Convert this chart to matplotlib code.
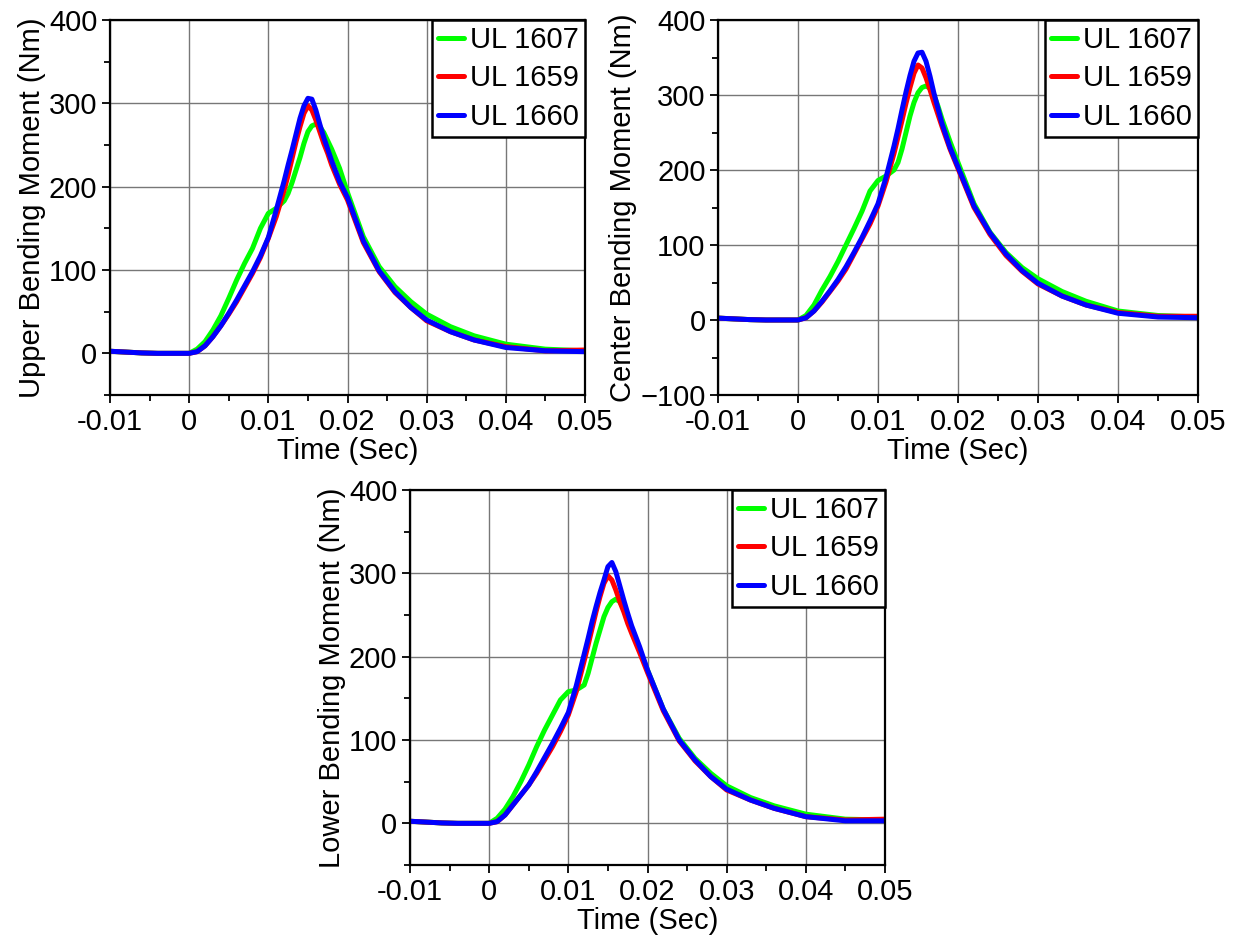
import numpy as np
import matplotlib.pyplot as plt
from matplotlib.ticker import MultipleLocator

plt.rcParams['font.family'] = ['Liberation Sans', 'DejaVu Sans']

# time axis (s)
t = [-0.01, -0.008, -0.006, -0.004, -0.002, 0.0,
     0.001, 0.002, 0.003, 0.004, 0.005, 0.006, 0.007, 0.008, 0.009, 0.010, 0.011, 0.012,
     0.0125, 0.013, 0.0135, 0.014, 0.0145, 0.015, 0.0155, 0.016, 0.0165, 0.017, 0.0175, 0.018,
     0.019, 0.020, 0.022, 0.024, 0.026, 0.028, 0.030, 0.033, 0.036,
     0.040, 0.045, 0.050]

names = ["UL 1607", "UL 1659", "UL 1660"]
colors = ["#00ff00", "#ff0000", "#0000ff"]

pre = [2.5, 1.5, 0.5, 0, 0, 0]

# Upper bending moment (Nm)
upper_1607 = pre + [5, 14, 28, 45, 66, 88, 108, 126, 150, 168, 174, 183,
                    192, 205, 220, 235, 252, 266, 273, 275, 272, 265, 255, 245,
                    222, 193, 140, 104, 80, 62, 47, 32, 21, 11, 5, 3]
upper_1659 = pre + [2, 9, 20, 33, 47, 62, 79, 96, 115, 138, 164, 196,
                    214, 234, 254, 272, 288, 297, 292, 280, 266, 252, 240, 226,
                    203, 184, 133, 98, 73, 55, 39, 26, 16, 8, 3, 4]
upper_1660 = pre + [2, 9, 20, 33, 48, 64, 81, 98, 117, 139, 172, 207,
                    226, 244, 263, 282, 297, 306, 305, 292, 275, 259, 245, 231,
                    206, 187, 135, 99, 74, 55, 40, 26, 16, 7, 3, 2]

# Center bending moment (Nm)
center_1607 = pre + [6, 20, 40, 58, 78, 100, 122, 145, 172, 186, 192, 200,
                     210, 228, 250, 272, 290, 303, 310, 312, 309, 300, 285, 268,
                     238, 210, 155, 117, 90, 70, 55, 38, 25, 12, 6, 4]
center_1659 = pre + [3, 12, 24, 38, 52, 68, 88, 108, 128, 152, 184, 222,
                     244, 266, 289, 310, 329, 340, 336, 323, 307, 290, 274, 258,
                     228, 202, 150, 114, 86, 65, 48, 32, 20, 10, 5, 5]
center_1660 = pre + [3, 12, 25, 39, 54, 71, 90, 110, 132, 155, 190, 232,
                     255, 280, 304, 326, 345, 356, 357, 345, 325, 302, 282, 262,
                     230, 204, 152, 116, 88, 66, 49, 32, 20, 9, 4, 3]

# Lower bending moment (Nm)
lower_1607 = pre + [6, 17, 32, 50, 70, 92, 112, 130, 148, 158, 160, 166,
                    180, 198, 216, 232, 248, 259, 266, 269, 266, 258, 245, 232,
                    208, 184, 137, 102, 78, 60, 45, 31, 21, 11, 5, 4]
lower_1659 = pre + [2, 10, 22, 34, 46, 60, 76, 92, 110, 130, 158, 195,
                    214, 234, 254, 272, 288, 297, 292, 280, 266, 254, 240, 228,
                    205, 181, 135, 99, 75, 56, 40, 28, 18, 8, 4, 5]
lower_1660 = pre + [2, 10, 22, 34, 46, 62, 79, 96, 114, 133, 165, 203,
                    222, 242, 260, 277, 292, 308, 313, 302, 285, 268, 252, 237,
                    212, 184, 137, 100, 76, 56, 41, 28, 18, 8, 3, 3]

xticks = [-0.01, 0, 0.01, 0.02, 0.03, 0.04, 0.05]
xticklabels = ["-0.01", "0", "0.01", "0.02", "0.03", "0.04", "0.05"]

W, H = 1239, 940
fig = plt.figure(figsize=(W / 100, H / 100), dpi=100)


def panel(rect, series, ylabel, ylim):
    l, top, r, b = rect
    ax = fig.add_axes([l / W, 1 - b / H, (r - l) / W, (b - top) / H])
    for ys, c, n in zip(series, colors, names):
        ax.plot(t, ys, color=c, lw=3.6, label=n, solid_capstyle='round', solid_joinstyle='round')
    ax.set_xlim(-0.01, 0.05)
    ax.set_ylim(*ylim)
    ax.set_xticks(xticks)
    ax.set_xticklabels(xticklabels)
    ax.xaxis.set_minor_locator(MultipleLocator(0.005))
    ax.yaxis.set_major_locator(MultipleLocator(100))
    ax.yaxis.set_minor_locator(MultipleLocator(50))
    ax.tick_params(which='both', direction='out', labelsize=21, width=1.3, pad=3)
    ax.tick_params(which='major', length=6)
    ax.tick_params(which='minor', length=4)
    ax.grid(True, which='major', color='#777777', lw=1)
    for s in ax.spines.values():
        s.set_linewidth(1.6)
    ax.set_xlabel("Time (Sec)", fontsize=21, labelpad=1)
    ax.set_ylabel(ylabel, fontsize=21, labelpad=2)
    leg = ax.legend(loc='upper right', fontsize=21, frameon=True, fancybox=False,
                    borderaxespad=0, handlelength=0.9, handletextpad=0.2,
                    labelspacing=0.36, borderpad=0.2)
    leg.get_frame().set_edgecolor('black')
    leg.get_frame().set_linewidth(1.8)
    leg.get_frame().set_alpha(1)
    return ax


panel((110, 20, 585, 395), [upper_1607, upper_1659, upper_1660], "Upper Bending Moment (Nm)", (-50, 400))
panel((718, 20, 1198, 395), [center_1607, center_1659, center_1660], "Center Bending Moment (Nm)", (-100, 400))
panel((410, 490, 885, 865), [lower_1607, lower_1659, lower_1660], "Lower Bending Moment (Nm)", (-50, 400))

fig.savefig("out.png", dpi=100)
